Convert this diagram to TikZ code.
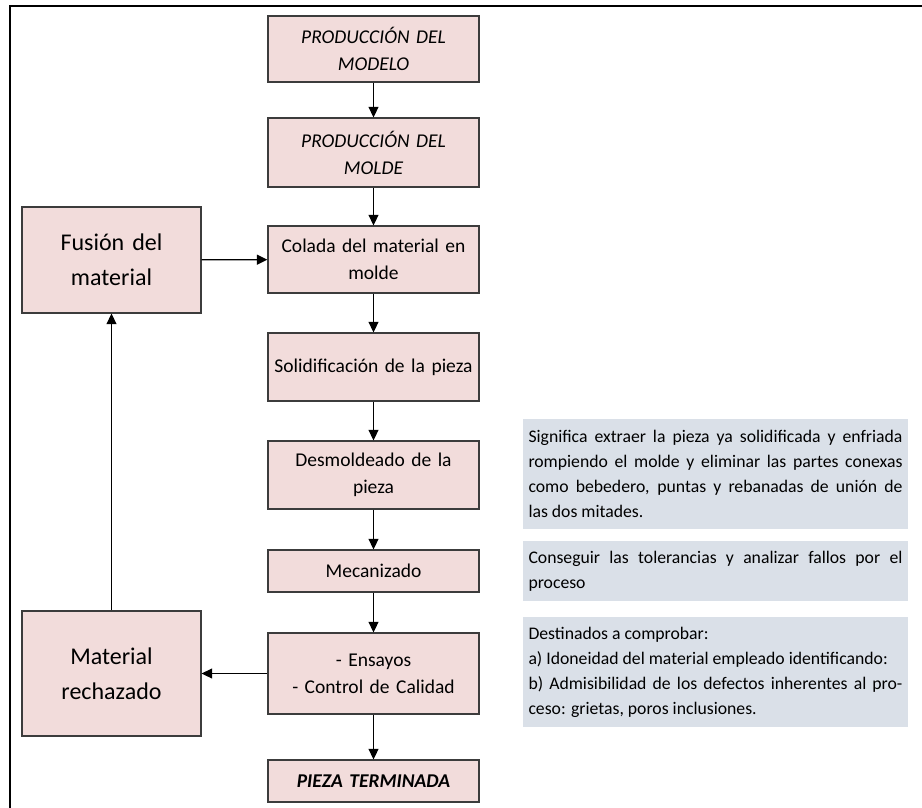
\documentclass[tikz,border=0pt]{standalone}
\usepackage{fontspec}
\setmainfont{Carlito}
\usetikzlibrary{arrows.meta}

\definecolor{rosa}{HTML}{F2DCDB}
\definecolor{grisazul}{HTML}{DAE0E8}
\definecolor{borde}{HTML}{3C3C3C}

\tikzset{
  paso/.style={draw=borde, line width=1.3pt, fill=rosa, align=center,
    text width=205pt, inner xsep=3pt, inner ysep=0pt,
    font=\fontsize{19.5}{27}\selectfont},
  lateral/.style={paso, text width=173pt, font=\fontsize{24}{35}\selectfont},
  nota/.style={fill=grisazul, draw=none, align=justify, text width=374pt,
    inner xsep=5.5pt, inner ysep=0pt, font=\fontsize{17.7}{25}\selectfont},
  flecha/.style={->, line width=1.3pt, black}
}

\begin{document}
\begin{tikzpicture}[x=1pt, y=-1pt, >={Triangle[length=10.5pt, width=10pt]}]
  \useasboundingbox (0,0) rectangle (922,808);

  % ==================== marco ====================
  \draw[line width=1.6pt] (10,808) -- (10,6) -- (922,6);

  % ==================== columna central ====================
  % 1. etapas del proceso
  \node[paso, minimum height=66pt] (modelo) at (373.5,49) {\itshape PRODUCCIÓN DEL\\MODELO};
  \node[paso, minimum height=69pt] (molde) at (373.5,152.5) {\itshape PRODUCCIÓN DEL\\MOLDE};
  \node[paso, minimum height=67pt] (colada) at (373.5,259.5) {Colada del material en\\molde};
  \node[paso, minimum height=68pt] (solid) at (373.5,367) {Solidificación de la pieza};
  \node[paso, minimum height=68pt] (desmol) at (373.5,475) {Desmoldeado de la\\pieza};
  \node[paso, minimum height=42pt] (mecan) at (373.5,571) {Mecanizado};
  \node[paso, minimum height=81pt] (ensayo) at (373.5,673.5) {- Ensayos\\- Control de Calidad};
  \node[paso, minimum height=42pt] (pieza) at (373.5,781) {\bfseries\itshape PIEZA TERMINADA};

  % 2. flechas verticales
  \draw[flecha] (modelo) -- (molde);
  \draw[flecha] (molde) -- (colada);
  \draw[flecha] (colada) -- (solid);
  \draw[flecha] (solid) -- (desmol);
  \draw[flecha] (desmol) -- (mecan);
  \draw[flecha] (mecan) -- (ensayo);
  \draw[flecha] (ensayo) -- (pieza);

  % ==================== bucle de reciclado ====================
  \node[lateral, minimum height=106pt] (fusion) at (111.5,260) {Fusión del\\material};
  \node[lateral, minimum height=125pt] (rechazo) at (111.5,673.5) {Material\\rechazado};

  \draw[flecha] (fusion) -- (colada);
  \draw[flecha] (ensayo) -- (rechazo);
  \draw[flecha] (rechazo) -- (fusion);

  % ==================== notas explicativas ====================
  \node[nota, minimum height=110pt] (notaA) at (715.5,474)
    {Significa extraer la pieza ya solidificada y enfriada\linebreak
     rompiendo el molde y eliminar las partes conexas\linebreak
     como bebedero, puntas y rebanadas de unión de\linebreak
     las dos mitades.};
  \node[nota, minimum height=60pt] (notaB) at (715.5,571)
    {Conseguir las tolerancias y analizar fallos por el\linebreak
     proceso};
  \node[nota, minimum height=110pt] (notaC) at (715.5,672)
    {Destinados a comprobar:\\
     a) Idoneidad del material empleado identificando:\\
     b) Admisibilidad de los defectos inherentes al pro-\linebreak
     ceso: grietas, poros inclusiones.};
\end{tikzpicture}
\end{document}
